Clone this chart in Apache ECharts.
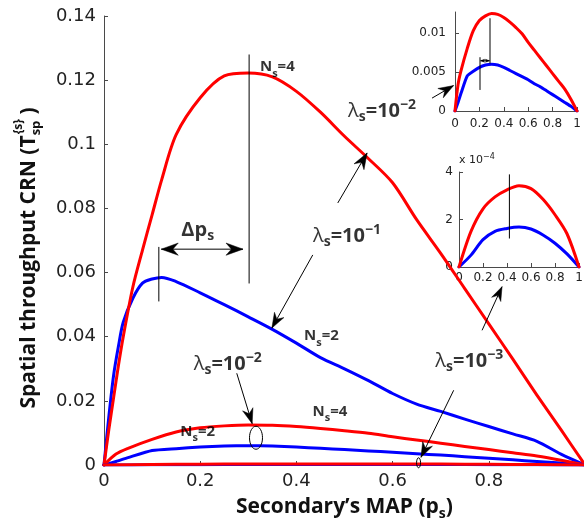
<!DOCTYPE html>
<html>
<head>
<meta charset="utf-8">
<script src="https://cdn.jsdelivr.net/npm/echarts@6.0.0/dist/echarts.min.js"></script>
<style>
html, body { margin: 0; padding: 0; background: #fff; }
#chart { width: 584px; height: 526px; }
</style>
</head>
<body>
<div id="chart"></div>
<script>
// Secondary MAP samples and spatial throughput, lambda_s = 1e-1
const psHigh = [0, 0.01, 0.02, 0.03, 0.04, 0.06, 0.08, 0.1, 0.12, 0.15, 0.2, 0.25, 0.3, 0.35, 0.4, 0.45, 0.5, 0.55, 0.6, 0.65, 0.7, 0.75, 0.8, 0.85, 0.9, 0.95, 1];
const thrHighN4 = [0, 0.011, 0.021, 0.031, 0.040, 0.0555, 0.067, 0.078, 0.089, 0.103, 0.1145, 0.1213, 0.1222, 0.121, 0.1165, 0.110, 0.1025, 0.0955, 0.088, 0.0765, 0.066, 0.055, 0.044, 0.033, 0.0218, 0.011, 0];
const thrHighN2 = [0, 0.015, 0.028, 0.037, 0.0445, 0.052, 0.0567, 0.058, 0.0585, 0.0572, 0.0537, 0.050, 0.0462, 0.0423, 0.038, 0.0335, 0.030, 0.0263, 0.0223, 0.019, 0.0167, 0.0143, 0.012, 0.0097, 0.0074, 0.0034, 0];

// lambda_s = 1e-2
const psLow = [0, 0.025, 0.05, 0.1, 0.15, 0.2, 0.25, 0.3, 0.35, 0.4, 0.45, 0.5, 0.55, 0.6, 0.65, 0.7, 0.75, 0.8, 0.85, 0.9, 0.95, 1];
const thrLowN4 = [0, 0.0034, 0.0052, 0.008, 0.0103, 0.0116, 0.0122, 0.0125, 0.0124, 0.012, 0.0114, 0.0107, 0.0099, 0.0088, 0.0078, 0.0068, 0.0058, 0.0048, 0.0038, 0.0028, 0.0015, 0];
const thrLowN2 = [0, 0.0011, 0.0023, 0.0045, 0.0051, 0.0056, 0.0059, 0.006, 0.0059, 0.0056, 0.0052, 0.0048, 0.0044, 0.004, 0.0035, 0.0031, 0.0026, 0.0021, 0.0016, 0.0011, 0.0006, 0];

// lambda_s = 1e-3
const psTiny = [0, 0.1, 0.2, 0.3, 0.4, 0.5, 0.6, 0.7, 0.8, 0.9, 1];
const thrTinyN4 = [0, 1.5e-4, 2.45e-4, 2.95e-4, 3.25e-4, 3.42e-4, 3.3e-4, 2.85e-4, 2.2e-4, 1.4e-4, 0];
const thrTinyN2 = [0, 0.5e-4, 1.15e-4, 1.5e-4, 1.62e-4, 1.68e-4, 1.6e-4, 1.35e-4, 1.0e-4, 0.55e-4, 0];

// Tick positions and labelled ticks
const mainXTicks = [0, 0.2, 0.4, 0.6, 0.8, 1];
const mainXLabels = [0, 0.2, 0.4, 0.6, 0.8];
const mainYTicks = [0, 0.02, 0.04, 0.06, 0.08, 0.1, 0.12, 0.14];
const insetXTicks = [0, 0.2, 0.4, 0.6, 0.8, 1];
const insetLowYTicks = [0, 0.005, 0.01];
const insetTinyYTicks = [0, 2e-4, 4e-4];

const TICK_FONT = 'DejaVu Sans';
const TEXT_FONT = 'Open Sans';
const AXIS_COLOR = '#4a4a4a';
const RED = '#ff0000';
const BLUE = '#0000ff';

const zip = (xs, ys) => xs.map((x, i) => [x, ys[i]]);
const fmt = v => String(Number(v.toFixed(6)));

function curve(xs, ys, color, grid, smooth) {
  return {
    type: 'line', xAxisIndex: grid, yAxisIndex: grid, data: zip(xs, ys),
    showSymbol: false, symbol: 'none', silent: true, animation: false, z: 3,
    smooth: smooth || false,
    lineStyle: { color: color, width: 3, join: 'round', cap: 'round' }, itemStyle: { color: color }
  };
}

function xAxisFor(grid, ticks, labels, fontSize, margin, extra) {
  return Object.assign({
    type: 'value', gridIndex: grid, min: 0, max: 1,
    splitLine: { show: false },
    axisLine: { show: true, onZero: false, lineStyle: { color: AXIS_COLOR, width: 1 } },
    axisTick: { show: true, inside: true, length: 4, customValues: ticks, lineStyle: { color: AXIS_COLOR } },
    axisLabel: { fontFamily: TICK_FONT, fontSize: fontSize, color: '#222', margin: margin, customValues: labels, formatter: fmt }
  }, extra || {});
}

function yAxisFor(grid, max, ticks, labels, fontSize, margin, formatter, extra) {
  return Object.assign({
    type: 'value', gridIndex: grid, min: 0, max: max,
    splitLine: { show: false },
    axisLine: { show: true, onZero: false, lineStyle: { color: AXIS_COLOR, width: 1 } },
    axisTick: { show: true, inside: true, length: 4, customValues: ticks, lineStyle: { color: AXIS_COLOR } },
    axisLabel: { fontFamily: TICK_FONT, fontSize: fontSize, color: '#222', margin: margin, customValues: labels, formatter: formatter }
  }, extra || {});
}

// Arrow head in the notched MATLAB style, tip at `tip`
function arrowHead(tip, from, len) {
  const dx = tip[0] - from[0], dy = tip[1] - from[1];
  const d = Math.hypot(dx, dy) || 1;
  const ux = dx / d, uy = dy / d, nx = -uy, ny = ux, half = len * 0.36;
  const bx = tip[0] - ux * len, by = tip[1] - uy * len;
  const mx = tip[0] - ux * len * 0.68, my = tip[1] - uy * len * 0.68;
  return {
    type: 'polygon',
    shape: { points: [[tip[0], tip[1]], [bx + nx * half, by + ny * half], [mx, my], [bx - nx * half, by - ny * half]] },
    style: { fill: '#000', stroke: '#000', lineWidth: 0.5 }
  };
}

function annotationSeries(grid, items) {
  return {
    type: 'custom', xAxisIndex: grid, yAxisIndex: grid, silent: true, animation: false, clip: false, z: 5,
    data: items.map(it => it.at || it.from),
    renderItem: function (params, api) {
      const it = items[params.dataIndex];
      if (it.rx) {
        const c = api.coord(it.at);
        return { type: 'ellipse', shape: { cx: c[0], cy: c[1], rx: it.rx, ry: it.ry }, style: { fill: 'none', stroke: '#000', lineWidth: 1 } };
      }
      const a = api.coord(it.from), b = api.coord(it.to);
      const children = [{ type: 'line', shape: { x1: a[0], y1: a[1], x2: b[0], y2: b[1] }, style: { stroke: '#000', lineWidth: 1 } }];
      if (it.head) {
        children.push(arrowHead(b, a, it.head));
        if (it.both) children.push(arrowHead(a, b, it.head));
      }
      return { type: 'group', children: children };
    }
  };
}

// Annotations on the main axes
const mainMarks = [
  { from: [0.3017, 0.128], to: [0.3017, 0.0566] },
  { from: [0.114, 0.068], to: [0.114, 0.051] },
  { from: [0.119, 0.0673], to: [0.289, 0.0673], head: 17, both: true },
  { from: [0.486, 0.0817], to: [0.547, 0.0973], head: 16 },
  { from: [0.434, 0.0655], to: [0.349, 0.0427], head: 15 },
  { from: [0.276, 0.0286], to: [0.308, 0.0129], head: 15 },
  { from: [0.727, 0.0233], to: [0.659, 0.0024], head: 15 },
  { from: [0.786, 0.042], to: [0.8275, 0.0556], head: 14 },
  { from: [0.682, 0.1144], to: [0.7267, 0.1183], head: 15 },
  { at: [0.316, 0.0085], rx: 6.5, ry: 11.5 },
  { at: [0.654, 0.0007], rx: 2, ry: 5 }
];
const lowMarks = [
  { from: [0.205, 0.0069], to: [0.205, 0.0027] },
  { from: [0.287, 0.0119], to: [0.287, 0.0061] },
  { from: [0.21, 0.00645], to: [0.282, 0.00645], head: 4, both: true }
];
const tinyMarks = [
  { from: [0.42, 3.9e-4], to: [0.42, 1.2e-4] }
];

const rich = {
  lam: { fontFamily: TEXT_FONT, fontSize: 20, lineHeight: 26, color: '#000' },
  b: { fontFamily: TEXT_FONT, fontWeight: 'bold', fontSize: 20, lineHeight: 26, color: '#000' },
  ls: { fontFamily: TEXT_FONT, fontWeight: 'bold', fontSize: 14, lineHeight: 13, verticalAlign: 'bottom', color: '#000' },
  le: { fontFamily: TEXT_FONT, fontWeight: 'bold', fontSize: 14, lineHeight: 9, verticalAlign: 'top', color: '#000' },
  n: { fontFamily: TEXT_FONT, fontWeight: 'bold', fontSize: 15, lineHeight: 24, color: '#000' },
  ns: { fontFamily: TEXT_FONT, fontWeight: 'bold', fontSize: 11, lineHeight: 8, verticalAlign: 'bottom', color: '#000' }
};
const lambdaText = e => '{lam|λ}{ls|s}{b|=10}{le|−' + e + '}';
const nsText = n => '{n|N}{ns|s}{n|=' + n + '}';

const mainLabels = [
  { at: [0.3604, 0.1241], text: nsText(4) },
  { at: [0.5781, 0.1103], text: lambdaText(2) },
  { at: [0.1948, 0.0733], text: '{b|Δp}{ls|s}' },
  { at: [0.5052, 0.0714], text: lambdaText(1) },
  { at: [0.4521, 0.0402], text: nsText(2) },
  { at: [0.2573, 0.0314], text: lambdaText(2) },
  { at: [0.4698, 0.0167], text: nsText(4) },
  { at: [0.1948, 0.0105], text: nsText(2) },
  { at: [0.7594, 0.0323], text: lambdaText(3) }
];

// Rotated y-axis title with stacked sub/superscript
const mctx = document.createElement('canvas').getContext('2d');
function textWidth(str, font) { mctx.font = font; return mctx.measureText(str).width; }
const titleFont = 'bold 21px "Open Sans"';
const subFont = 'bold 13px "Open Sans"';
const supFont = 'bold 12px "Open Sans"';
const tMain = 'Spatial throughput CRN (T';
const w1 = textWidth(tMain, titleFont);
const wStack = Math.max(textWidth('sp', subFont), textWidth('{s}', supFont));
const wEnd = textWidth(' )', titleFont);
const tTotal = w1 + wStack + wEnd;
const x0 = -tTotal / 2;

const chart = echarts.init(document.getElementById('chart'), null, { renderer: 'canvas' });
chart.setOption({
  backgroundColor: '#fff',
  animation: false,
  grid: [
    { left: 104, top: 16, width: 481, height: 449, outerBoundsMode: 'none' },
    { left: 455, top: 12, width: 122, height: 99, outerBoundsMode: 'none' },
    { left: 459, top: 172, width: 120, height: 95, outerBoundsMode: 'none' }
  ],
  xAxis: [
    xAxisFor(0, mainXTicks, mainXLabels, 18, 7, {
      name: '{t|Secondary’s MAP (p}{s|s}{t|)}', nameLocation: 'middle', nameGap: 28,
      nameTextStyle: { rich: {
        t: { fontFamily: TEXT_FONT, fontWeight: 'bold', fontSize: 21, lineHeight: 28, color: '#111' },
        s: { fontFamily: TEXT_FONT, fontWeight: 'bold', fontSize: 14, lineHeight: 13, verticalAlign: 'bottom', color: '#111' }
      } }
    }),
    xAxisFor(1, insetXTicks, insetXTicks, 12, 7),
    xAxisFor(2, insetXTicks, insetXTicks, 12, 5)
  ],
  yAxis: [
    yAxisFor(0, 0.14, mainYTicks, mainYTicks, 18, 8, fmt),
    yAxisFor(1, 0.0127, insetLowYTicks, insetLowYTicks, 12, 9, fmt),
    yAxisFor(2, 4e-4, insetTinyYTicks, insetTinyYTicks, 12, 6, v => String(Math.round(v * 1e4)), {
      name: '{a|x 10}{e|−4}', nameLocation: 'end', nameGap: 5,
      nameTextStyle: { align: 'left', verticalAlign: 'bottom', rich: {
        a: { fontFamily: TICK_FONT, fontSize: 11, lineHeight: 14, color: '#222' },
        e: { fontFamily: TICK_FONT, fontSize: 8, lineHeight: 8, verticalAlign: 'top', color: '#222' }
      } }
    })
  ],
  graphic: [{
    type: 'group', x: 29, y: 258, rotation: Math.PI / 2, silent: true,
    children: [
      { type: 'text', x: x0, y: 0, style: { text: tMain, font: titleFont, fill: '#111', verticalAlign: 'middle', align: 'left' } },
      { type: 'text', x: x0 + w1, y: 7, style: { text: 'sp', font: subFont, fill: '#111', verticalAlign: 'middle', align: 'left' } },
      { type: 'text', x: x0 + w1 + 1, y: -10, style: { text: '{s}', font: supFont, fill: '#111', verticalAlign: 'middle', align: 'left' } },
      { type: 'text', x: x0 + w1 + wStack, y: 0, style: { text: ' )', font: titleFont, fill: '#111', verticalAlign: 'middle', align: 'left' } }
    ]
  }],
  series: [
    curve(psHigh, thrHighN2, BLUE, 0, 0.3),
    curve(psHigh, thrHighN4, RED, 0, 0.3),
    curve(psLow, thrLowN2, BLUE, 0, 0.2),
    curve(psLow, thrLowN4, RED, 0, 0.3),
    curve(psTiny, thrTinyN2, BLUE, 0, 0.3),
    curve(psTiny, thrTinyN4, RED, 0, 0.3),
    curve(psLow, thrLowN2, BLUE, 1, 0.2),
    curve(psLow, thrLowN4, RED, 1, 0.3),
    curve(psTiny, thrTinyN2, BLUE, 2, 0.3),
    curve(psTiny, thrTinyN4, RED, 2, 0.3),
    annotationSeries(0, mainMarks),
    annotationSeries(1, lowMarks),
    annotationSeries(2, tinyMarks),
    {
      type: 'scatter', xAxisIndex: 0, yAxisIndex: 0, silent: true, animation: false, clip: false, z: 6,
      symbolSize: 1, itemStyle: { color: 'rgba(0,0,0,0)' },
      label: { show: true, position: 'inside', rich: rich },
      data: mainLabels.map(l => ({ value: l.at, label: { formatter: l.text } }))
    }
  ]
});
</script>
</body>
</html>
